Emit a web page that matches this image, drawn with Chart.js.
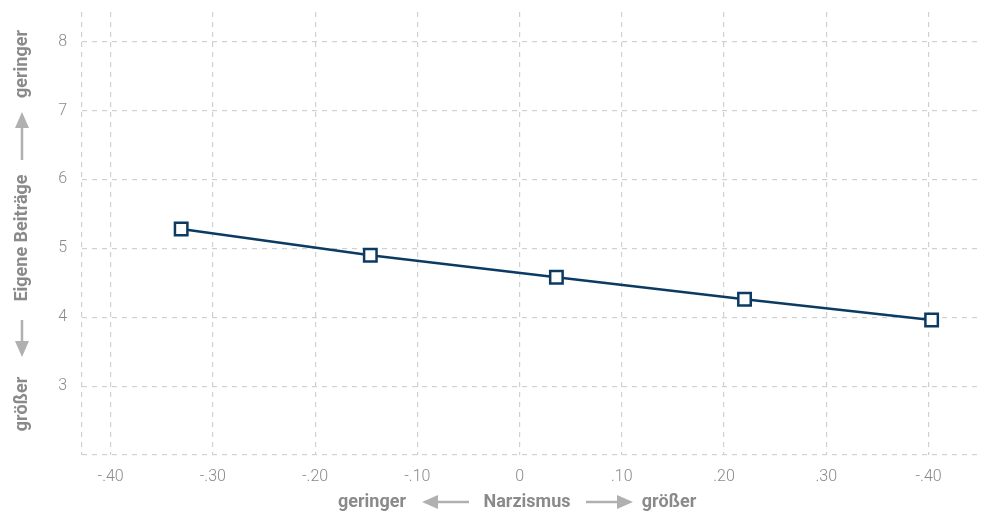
<!DOCTYPE html>
<html>
<head>
<meta charset="utf-8">
<script src="https://cdn.jsdelivr.net/npm/chart.js@4"></script>
<style>
  html, body { margin: 0; padding: 0; background: #fff; }
  #wrap { width: 992px; height: 515px; }
</style>
</head>
<body>
<div id="wrap"><canvas id="chart"></canvas></div>
<script>
// Daten
const narzismus = [-0.331, -0.146, 0.036, 0.220, 0.403];
const beitraege = [5.28, 4.90, 4.58, 4.26, 3.96];
const xTicks = [-0.4, -0.3, -0.2, -0.1, 0, 0.1, 0.2, 0.3, 0.4];
const xTickLabels = ['-.40', '-.30', '-.20', '-.10', '0', '.10', '.20', '.30', '-.40'];
const yTicks = [3, 4, 5, 6, 7, 8];
const xMin = -0.428, xMax = 0.451;
const yMin = 2, yMax = 8.43;

const navy = '#0b3a62';
const gridGrey = '#d0d0d0';
const textGrey = '#8a8a8a';
const arrowGrey = '#b0b0b0';

// Achsentitel mit Pfeilen zeichnen
function arrow(ctx, x1, y1, x2, y2) {
    const ang = Math.atan2(y2 - y1, x2 - x1);
    const head = 16, half = 7;
    const bx = x2 - Math.cos(ang) * head, by = y2 - Math.sin(ang) * head;
    ctx.strokeStyle = arrowGrey;
    ctx.fillStyle = arrowGrey;
    ctx.lineWidth = 2.5;
    ctx.beginPath();
    ctx.moveTo(x1, y1);
    ctx.lineTo(bx, by);
    ctx.stroke();
    ctx.beginPath();
    ctx.moveTo(x2, y2);
    ctx.lineTo(bx - Math.sin(ang) * half, by + Math.cos(ang) * half);
    ctx.lineTo(bx + Math.sin(ang) * half, by - Math.cos(ang) * half);
    ctx.closePath();
    ctx.fill();
}

const titlePlugin = {
    id: 'axisTitles',
    afterDraw(chart) {
        const ctx = chart.ctx;
        ctx.save();
        ctx.font = 'bold 18px Roboto';
        ctx.fillStyle = textGrey;
        ctx.textAlign = 'center';
        ctx.textBaseline = 'middle';
        // x-Achse
        const ty = 502;
        ctx.fillText('geringer', 372, ty);
        ctx.fillText('Narzismus', 527, ty);
        ctx.fillText('größer', 669, ty);
        arrow(ctx, 469, ty, 422, ty);
        arrow(ctx, 586, ty, 633, ty);
        // y-Achse (gedreht)
        ctx.save();
        ctx.translate(22, 0);
        ctx.rotate(-Math.PI / 2);
        ctx.fillStyle = textGrey;
        ctx.fillText('geringer', -64, 0);
        ctx.fillText('Eigene Beiträge', -238, 0);
        ctx.fillText('größer', -404, 0);
        ctx.restore();
        arrow(ctx, 22, 160, 22, 112);
        arrow(ctx, 22, 320, 22, 357);
        ctx.restore();
    }
};

// Randabstände der Achsen für Beschriftungen abschalten
function noLabelPadding(s) {
    s.paddingTop = 0;
    s.paddingBottom = 0;
    s.paddingLeft = 0;
    s.paddingRight = 0;
}

new Chart(document.getElementById('chart'), {
    type: 'scatter',
    data: {
        datasets: [{
            data: narzismus.map((x, i) => ({ x: x, y: beitraege[i] })),
            showLine: true,
            borderColor: navy,
            borderWidth: 2.5,
            pointStyle: 'rect',
            pointRadius: 8.8,
            pointHoverRadius: 8.8,
            pointBorderWidth: 2.5,
            pointBackgroundColor: '#fff',
            pointBorderColor: navy
        }]
    },
    options: {
        responsive: true,
        maintainAspectRatio: false,
        animation: false,
        layout: { padding: { top: 12, right: 10, left: 0, bottom: 0 } },
        plugins: { legend: { display: false }, tooltip: { enabled: false } },
        scales: {
            x: {
                type: 'linear',
                min: xMin,
                max: xMax,
                // Rahmenlinie links als gestrichelte Gitterlinie
                afterBuildTicks: s => { s.ticks = [xMin].concat(xTicks).map(v => ({ value: v })); },
                afterFit: s => { s.height = 60; noLabelPadding(s); },
                ticks: {
                    padding: 12,
                    color: textGrey,
                    font: { family: 'Roboto', size: 16, weight: '300' },
                    callback: (v, i) => i === 0 ? '' : xTickLabels[i - 1]
                },
                grid: { color: gridGrey, drawTicks: false, lineWidth: 1.2 },
                border: { display: false, dash: [5, 5] }
            },
            y: {
                min: yMin,
                max: yMax,
                afterBuildTicks: s => { s.ticks = [yMin].concat(yTicks).map(v => ({ value: v })); },
                afterFit: s => { s.width = 82; noLabelPadding(s); },
                ticks: {
                    padding: 15,
                    color: textGrey,
                    font: { family: 'Roboto', size: 16, weight: '300' },
                    callback: v => v === yMin ? '' : String(v)
                },
                grid: { color: gridGrey, drawTicks: false, lineWidth: 1.2 },
                border: { display: false, dash: [5, 5] }
            }
        }
    },
    plugins: [titlePlugin]
});
</script>
</body>
</html>
